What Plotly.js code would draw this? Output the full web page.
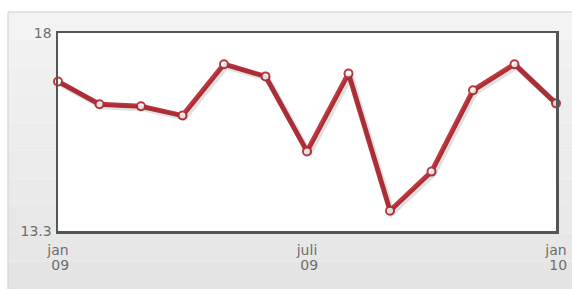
<!DOCTYPE html>
<html>
<head>
<meta charset="utf-8">
<script src="https://cdn.plot.ly/plotly-3.0.1.min.js"></script>
<style>
html,body{margin:0;padding:0;background:#fff;}
#chart{width:572px;height:289px;}
</style>
</head>
<body>
<div id="chart"></div>
<script>
const months = ['jan 09','feb 09','mrt 09','apr 09','mei 09','juni 09','juli 09','aug 09','sep 09','okt 09','nov 09','dec 09','jan 10'];
const values = [16.85, 16.31, 16.26, 16.04, 17.26, 16.97, 15.19, 17.04, 13.78, 14.71, 16.64, 17.26, 16.33];
const xTickVals = ['jan 09','juli 09','jan 10'];
const xTickMonth = ['jan','juli','jan'];
const xTickYear = ['\u00A009','\u00A009','\u00A010'];
const yTickVals = [13.3, 18];
const yTickText = ['13.3','18'];

const RED = '#c1363f';

const shadow = {
  x: months, y: values, type: 'scatter', mode: 'lines',
  xaxis: 'x3', yaxis: 'y3',
  line: {color: 'rgba(0,0,0,0.12)', width: 6},
  hoverinfo: 'skip', cliponaxis: false, showlegend: false
};
const main = {
  x: months, y: values, type: 'scatter', mode: 'lines+markers',
  line: {color: RED, width: 5},
  marker: {size: 8, color: '#ffffff', line: {color: RED, width: 2}},
  cliponaxis: false, showlegend: false
};
const yearTrace = {
  x: months, y: values, type: 'scatter', mode: 'none',
  xaxis: 'x2', hoverinfo: 'skip', showlegend: false
};

const tickFont = {family: 'DejaVu Sans, Verdana, sans-serif', size: 14, color: '#6e6e6e'};

// panel gradient bands (paper coords; plot area is 498 x 198 px)
const shapes = [];
const bandCount = 10;
const topY = 1 + 21/198, botY = -58/198;
for (let i = 0; i < bandCount; i++) {
  const c = Math.round(243 - i * 14 / (bandCount - 1));
  shapes.push({type: 'rect', xref: 'paper', yref: 'paper', layer: 'below',
    x0: -50/498, x1: 1.1,
    y1: topY - (topY - botY) * i / bandCount,
    y0: topY - (topY - botY) * (i + 1) / bandCount,
    fillcolor: `rgb(${c},${c},${c})`, line: {width: 0}});
}
shapes.push({type: 'line', xref: 'paper', yref: 'paper', layer: 'below',
  x0: -50/498, x1: 1.1, y0: topY, y1: topY, line: {color: '#cfcfcf', width: 1}});
shapes.push({type: 'line', xref: 'paper', yref: 'paper', layer: 'below',
  x0: -50/498, x1: -50/498, y0: topY, y1: botY, line: {color: '#cfcfcf', width: 1}});
shapes.push({type: 'rect', xref: 'paper', yref: 'paper', layer: 'below',
  x0: 0, x1: 1, y0: 0, y1: 1, fillcolor: '#ffffff', line: {width: 0}});

const layout = {
  width: 572, height: 289,
  margin: {l: 58, r: 16, t: 33, b: 58},
  paper_bgcolor: '#ffffff',
  plot_bgcolor: '#ffffff',
  xaxis: {
    type: 'category', range: [0, 12],
    tickmode: 'array', tickvals: xTickVals, ticktext: xTickMonth,
    showgrid: false, zeroline: false,
    showline: true, mirror: true, linecolor: '#555', linewidth: 2.5,
    ticks: '', tickfont: tickFont, ticklabelstandoff: 5
  },
  xaxis2: {
    type: 'category', range: [0, 12], overlaying: 'x', anchor: 'y', side: 'bottom',
    tickmode: 'array', tickvals: xTickVals, ticktext: xTickYear,
    showgrid: false, zeroline: false, showline: false,
    ticks: '', tickfont: tickFont, ticklabelstandoff: 24
  },
  xaxis3: {
    type: 'category', range: [-0.05, 11.95], overlaying: 'x', anchor: 'y3',
    visible: false
  },
  yaxis: {
    range: [13.3, 18],
    tickmode: 'array', tickvals: yTickVals, ticktext: yTickText,
    showgrid: false, zeroline: false,
    showline: true, mirror: true, linecolor: '#555', linewidth: 2.5,
    ticks: '', tickfont: tickFont, ticklabelstandoff: 1
  },
  yaxis3: {
    range: [13.35, 18.05], overlaying: 'y', anchor: 'x3', visible: false
  },
  shapes: shapes
};

Plotly.newPlot('chart', [shadow, yearTrace, main], layout, {displayModeBar: false, staticPlot: true});
</script>
</body>
</html>
